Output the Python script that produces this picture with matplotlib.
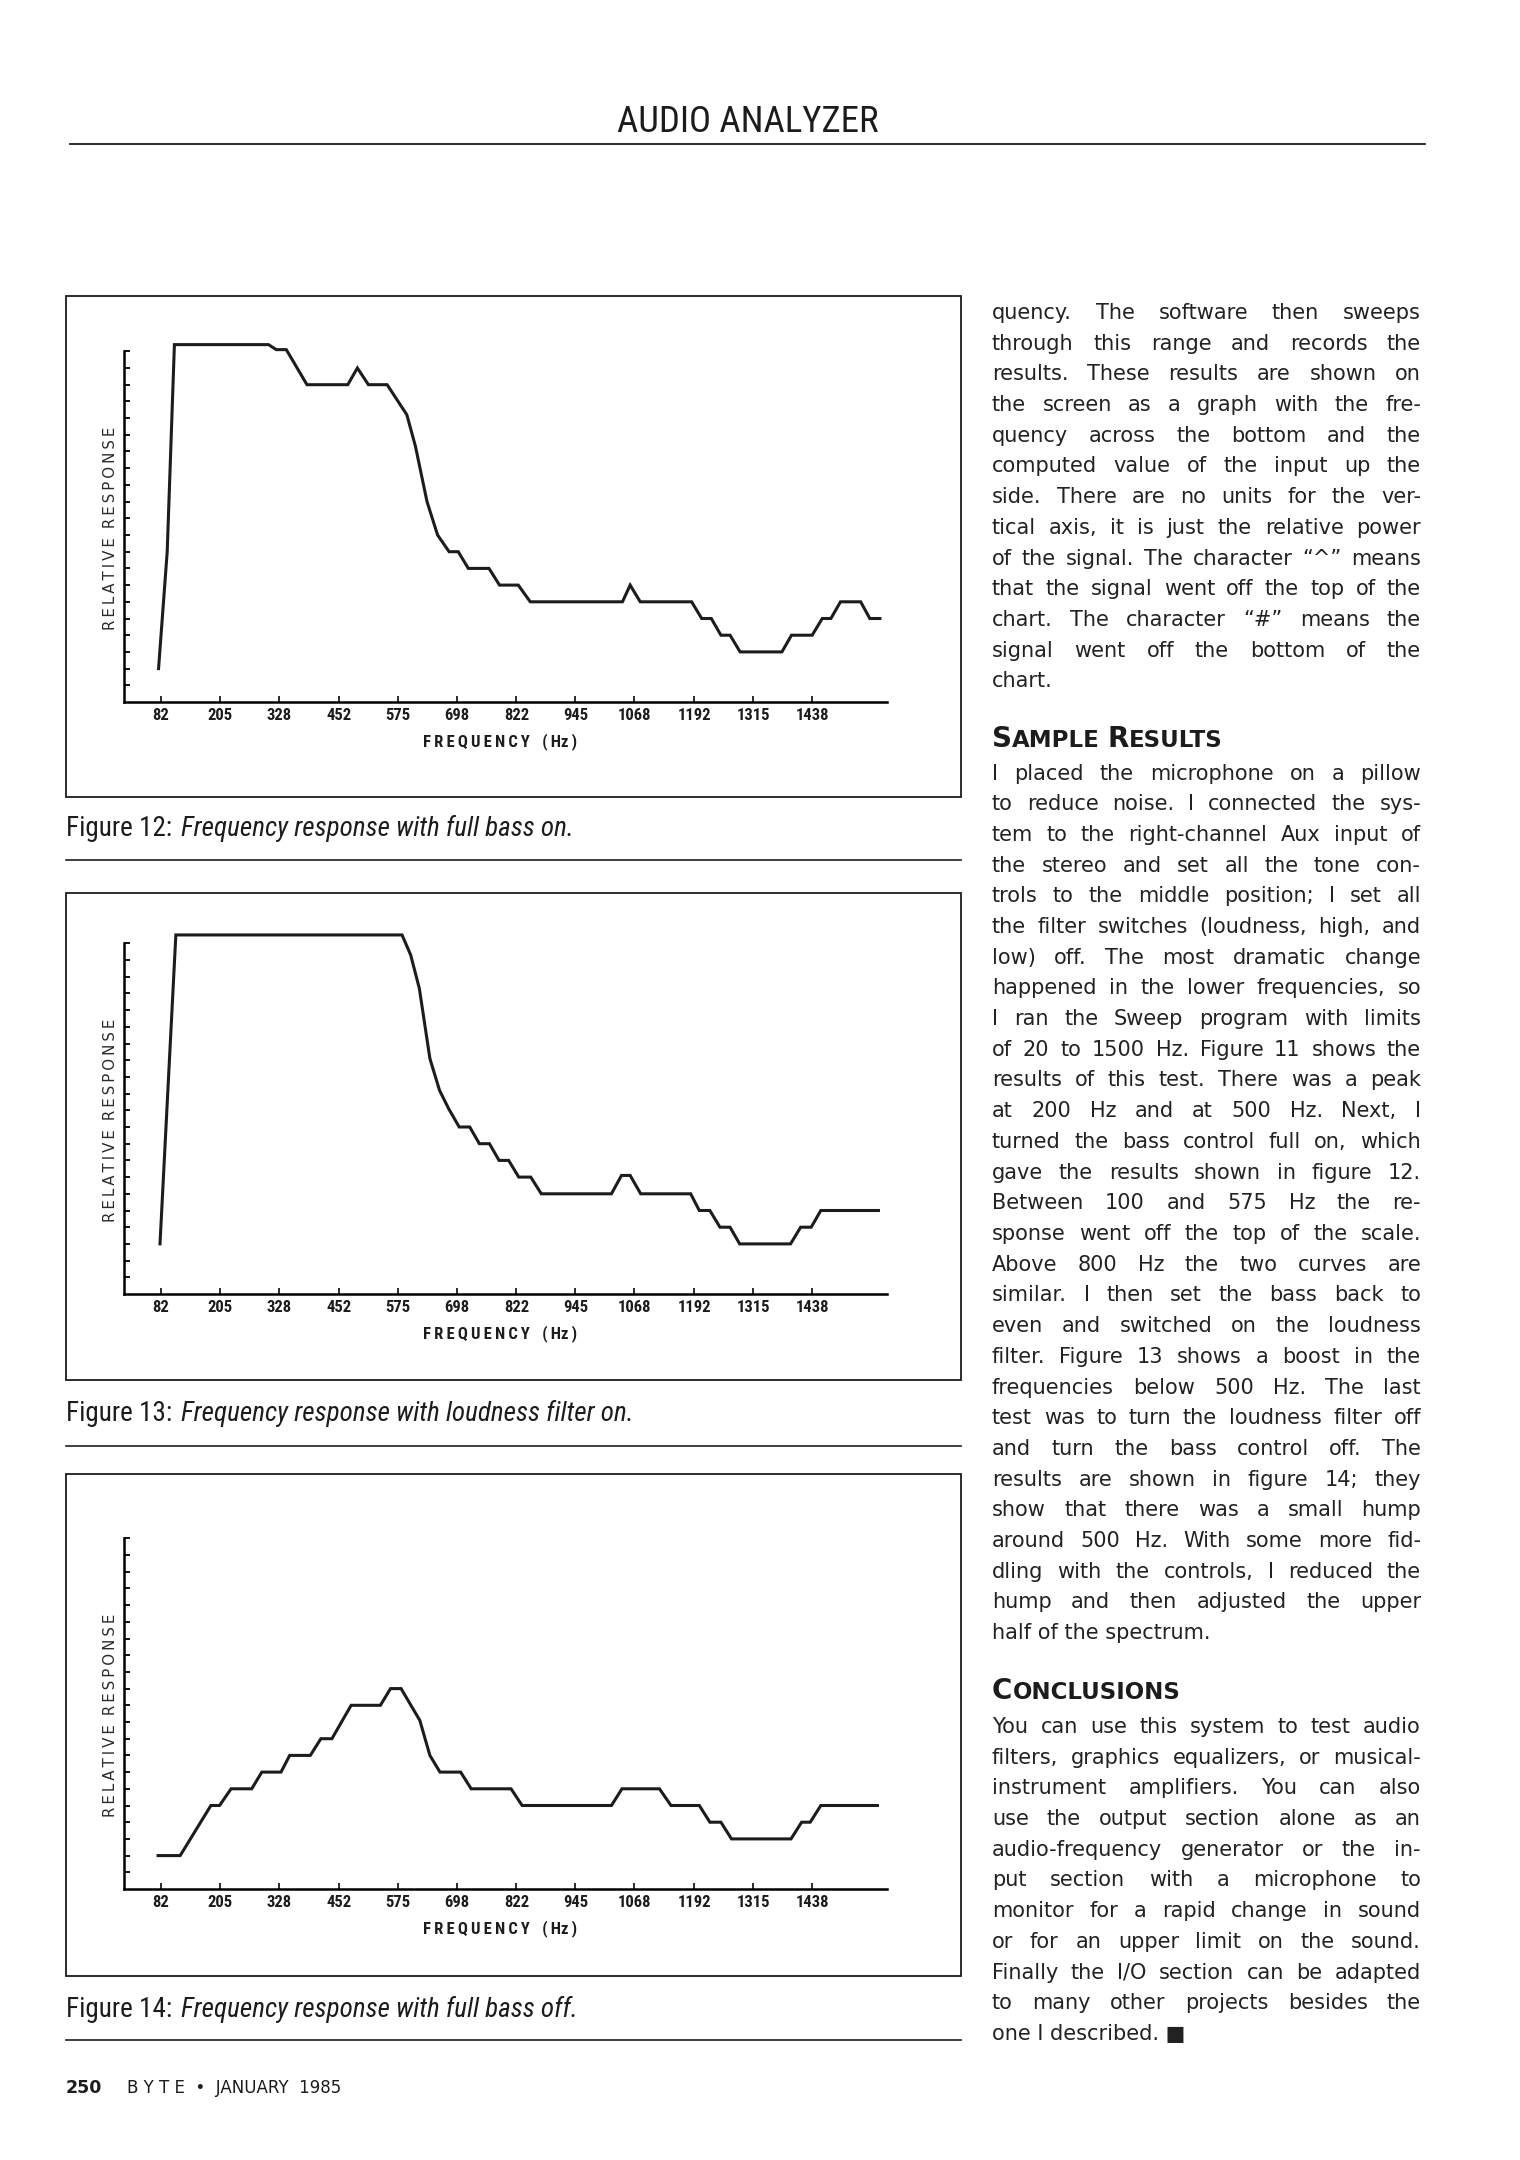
import matplotlib
matplotlib.use("Agg")
import matplotlib.pyplot as plt
from matplotlib import font_manager
from matplotlib.patches import Rectangle
from matplotlib.lines import Line2D

W, H = 1520, 2160
INK = '#1c1c1c'

# a narrow face for the captions and chart lettering, if one is installed
fonts = font_manager.fontManager.ttflist
NARROW, STRETCH, HAS_NARROW = 'DejaVu Sans', 'normal', False
for name in ['Liberation Sans Narrow', 'Roboto Condensed', 'Open Sans Condensed', 'DejaVu Sans Condensed']:
    if any(f.name == name for f in fonts):
        NARROW, HAS_NARROW = name, True
        break
if not HAS_NARROW and any(f.name == 'DejaVu Sans' and f.stretch == 'condensed' for f in fonts):
    STRETCH, HAS_NARROW = 'condensed', True

# ---- chart data (frequency in Hz, response in y-axis tick units) ----
freq_ticks = [82, 205, 328, 452, 575, 698, 822, 945, 1068, 1192, 1315, 1438]
freq_labels = [str(v) for v in freq_ticks]

fig12_hz = [77, 95, 110, 306, 322, 343, 386, 471, 491, 514, 553, 594, 612, 636, 658, 682, 701, 722, 765, 787,
            826, 851, 1043, 1059, 1080, 1187, 1208, 1228, 1248, 1267, 1288, 1375, 1395, 1438, 1459, 1477, 1497, 1539, 1558, 1579]
fig12_lvl = [2, 9, 21.4, 21.4, 21.1, 21.1, 19, 19, 20, 19, 19, 17.2, 15.3, 12, 10, 9, 9, 8, 8, 7,
             7, 6, 6, 7, 6, 6, 5, 5, 4, 4, 3, 3, 4, 4, 5, 5, 6, 6, 5, 5]

fig13_hz = [80, 113, 584, 602, 620, 642, 662, 681, 703, 725, 745, 766, 786, 806, 827, 852, 874, 1020, 1041, 1059,
            1081, 1185, 1203, 1225, 1246, 1267, 1287, 1393, 1414, 1436, 1456, 1576]
fig13_lvl = [3, 21.5, 21.5, 20.3, 18.3, 14.1, 12.2, 11.1, 10, 10, 9, 9, 8, 8, 7, 7, 6, 6, 7.1, 7.1,
             6, 6, 5, 5, 4, 4, 3, 3, 4, 4, 5, 5]

fig14_hz = [76, 122, 186, 204, 228, 271, 292, 332, 350, 393, 415, 438, 478, 539, 560, 582, 621, 642, 663, 706,
            728, 811, 834, 1020, 1042, 1120, 1144, 1203, 1225, 1248, 1270, 1394, 1416, 1434, 1456, 1574]
fig14_lvl = [2, 2, 5, 5, 6, 6, 7, 7, 8, 8, 9, 9, 11, 11, 12, 12, 10.1, 8, 7, 7,
             6, 6, 5, 5, 6, 6, 5, 5, 4, 4, 3, 3, 4, 4, 5, 5]

captions = [("Figure 12:", "Frequency response with full bass on."),
            ("Figure 13:", "Frequency response with loudness filter on."),
            ("Figure 14:", "Frequency response with full bass off.")]

# ---- article text ----
para1 = ["quency. The software then sweeps",
         "through this range and records the",
         "results. These results are shown on",
         "the screen as a graph with the fre-",
         "quency across the bottom and the",
         "computed value of the input up the",
         "side. There are no units for the ver-",
         "tical axis, it is just the relative power",
         "of the signal. The character \u201c^\u201d means",
         "that the signal went off the top of the",
         "chart. The character \u201c#\u201d means the",
         "signal went off the bottom of the",
         "chart."]
para2 = ["I placed the microphone on a pillow",
         "to reduce noise. I connected the sys-",
         "tem to the right-channel Aux input of",
         "the stereo and set all the tone con-",
         "trols to the middle position; I set all",
         "the filter switches (loudness, high, and",
         "low) off. The most dramatic change",
         "happened in the lower frequencies, so",
         "I ran the Sweep program with limits",
         "of 20 to 1500 Hz. Figure 11 shows the",
         "results of this test. There was a peak",
         "at 200 Hz and at 500 Hz. Next, I",
         "turned the bass control full on, which",
         "gave the results shown in figure 12.",
         "Between 100 and 575 Hz the re-",
         "sponse went off the top of the scale.",
         "Above 800 Hz the two curves are",
         "similar. I then set the bass back to",
         "even and switched on the loudness",
         "filter. Figure 13 shows a boost in the",
         "frequencies below 500 Hz. The last",
         "test was to turn the loudness filter off",
         "and turn the bass control off. The",
         "results are shown in figure 14; they",
         "show that there was a small hump",
         "around 500 Hz. With some more fid-",
         "dling with the controls, I reduced the",
         "hump and then adjusted the upper",
         "half of the spectrum."]
para3 = ["You can use this system to test audio",
         "filters, graphics equalizers, or musical-",
         "instrument amplifiers. You can also",
         "use the output section alone as an",
         "audio-frequency generator or the in-",
         "put section with a microphone to",
         "monitor for a rapid change in sound",
         "or for an upper limit on the sound.",
         "Finally the I/O section can be adapted",
         "to many other projects besides the",
         "one I described. \u25a0"]

fig = plt.figure(figsize=(W / 100, H / 100), dpi=100)
fig.patch.set_facecolor('white')
renderer = fig.canvas.get_renderer()


def fx(x):
    return x / W


def fy(y):
    return 1 - y / H


def text_width(s, **kw):
    t = fig.text(0, 0, s, **kw)
    w = t.get_window_extent(renderer).width
    t.remove()
    return w


def put_runs(x, y, runs, gap=0):
    for s, kw in runs:
        if s == ' ':
            x += gap
            continue
        t = fig.text(fx(x), fy(y), s, va='baseline', ha='left', color=INK, **kw)
        x += t.get_window_extent(renderer).width


def hline(y, x0, x1, lw=1.0):
    fig.add_artist(Line2D([fx(x0), fx(x1)], [fy(y), fy(y)], lw=lw, color=INK))


narrow = dict(family=NARROW, stretch=STRETCH)

# ---- page header ----
fig.text(fx(748), fy(132), "AUDIO ANALYZER", ha='center', va='baseline', color=INK,
         fontsize=26.5 if HAS_NARROW else 22, **narrow)
hline(144, 70, 1425, lw=1.3)

# ---- the three charts ----
AX_L, AX_W = 123.5, 763.1
LEVEL_PX = 16.7
charts = [(fig12_hz, fig12_lvl, 296, 797, 702, 836, 860),
          (fig13_hz, fig13_lvl, 893, 1380, 1294, 1421, 1446),
          (fig14_hz, fig14_lvl, 1474, 1976, 1889, 2017, 2040)]
cap_size = 19.5 if HAS_NARROW else 15
tick_size = 12 if HAS_NARROW else 9.3
ylab = '\u2009'.join("RELATIVE") + '\u2009\u2009\u2009' + '\u2009'.join("RESPONSE")
xlab = '\u2009'.join("FREQUENCY") + '\u2009\u2009\u2009\u2009(\u2009Hz\u2009)'

for (hz, lvl, box_top, box_bot, axis_y, cap_y, rule_y), (fig_no, cap) in zip(charts, captions):
    fig.add_artist(Rectangle((fx(66), fy(box_bot)), fx(961) - fx(66), (box_bot - box_top) / H,
                             transform=fig.transFigure, fill=False, lw=1.3, ec=INK))
    ax = fig.add_axes([fx(AX_L), fy(axis_y), AX_W / W, 22 * LEVEL_PX / H])
    ax.patch.set_alpha(0)
    ax.plot(hz, lvl, color=INK, lw=2.2, solid_joinstyle='miter', clip_on=False)
    ax.set_xlim(4, 1593)
    ax.set_ylim(0, 22)
    ax.spines['top'].set_visible(False)
    ax.spines['right'].set_visible(False)
    ax.spines['left'].set_bounds(0, 21)
    ax.spines['left'].set_linewidth(1.8)
    ax.spines['bottom'].set_linewidth(1.8)
    ax.set_xticks(freq_ticks, freq_labels)
    ax.set_yticks(range(1, 22))
    ax.tick_params(axis='y', direction='in', length=4.5, width=1.3, labelleft=False)
    ax.tick_params(axis='x', direction='in', length=4, width=1.3, pad=4,
                   labelsize=tick_size, colors=INK)
    for lab in ax.get_xticklabels():
        lab.set_family(NARROW)
        lab.set_stretch(STRETCH)
        lab.set_weight('bold')
    ax.annotate(xlab, xy=(788, 0), xycoords='data',
                xytext=(0, -28.5), textcoords='offset points', ha='center', va='center',
                weight='bold', fontsize=tick_size, color=INK, annotation_clip=False, **narrow)
    ax.annotate(ylab, xy=(0, 10.4), xycoords=('axes fraction', 'data'),
                xytext=(-9.5, 0), textcoords='offset points', rotation=90,
                ha='center', va='center', family='DejaVu Sans', fontsize=10.8, color='#2a2a2a',
                annotation_clip=False)
    put_runs(66, cap_y, [(fig_no, dict(fontsize=cap_size, **narrow)), (' ', {}),
                         (cap, dict(fontsize=cap_size, style='italic', **narrow))],
             gap=cap_size * 0.45)
    hline(rule_y, 66, 961, lw=1.2)

# ---- right column text ----
COL_L, COL_R = 992, 1421
STEP = 30.7
base = dict(family='DejaVu Sans', fontsize=10)
widest = max(text_width(l, **base) for p in (para1, para2, para3) for l in p[:-1])
body_size = min(15, 10 * (COL_R - COL_L) / widest * 0.985)
body = dict(family='DejaVu Sans', fontsize=body_size, color='#222222')


def draw_para(lines, y0):
    for i, line in enumerate(lines):
        y = y0 + i * STEP
        if i == len(lines) - 1:
            fig.text(fx(COL_L), fy(y), line, va='baseline', ha='left', **body)
            continue
        words = line.split()
        ws = [text_width(w, **body) for w in words]
        gap = (COL_R - COL_L - sum(ws)) / (len(words) - 1)
        x = COL_L
        for w, wd in zip(words, ws):
            fig.text(fx(x), fy(y), w, va='baseline', ha='left', **body)
            x += wd + gap


big = dict(family='DejaVu Sans', weight='bold', fontsize=20)
small = dict(family='DejaVu Sans', weight='bold', fontsize=16.5)

draw_para(para1, 319)
put_runs(COL_L, 747, [("S", big), ("AMPLE", small), (' ', {}), ("R", big), ("ESULTS", small)], gap=8)
draw_para(para2, 779.5)
put_runs(COL_L, 1699, [("C", big), ("ONCLUSIONS", small)])
draw_para(para3, 1733)

# ---- footer ----
fig.text(fx(66), fy(2093), "250", ha='left', va='baseline', color=INK,
         family='DejaVu Sans', weight='bold', fontsize=12.5)
fig.text(fx(127), fy(2093), "B Y T E  \u2022  JANUARY  1985", ha='left', va='baseline', color=INK,
         family='DejaVu Sans', fontsize=12)

fig.savefig('out.png', dpi=100, facecolor='white')
